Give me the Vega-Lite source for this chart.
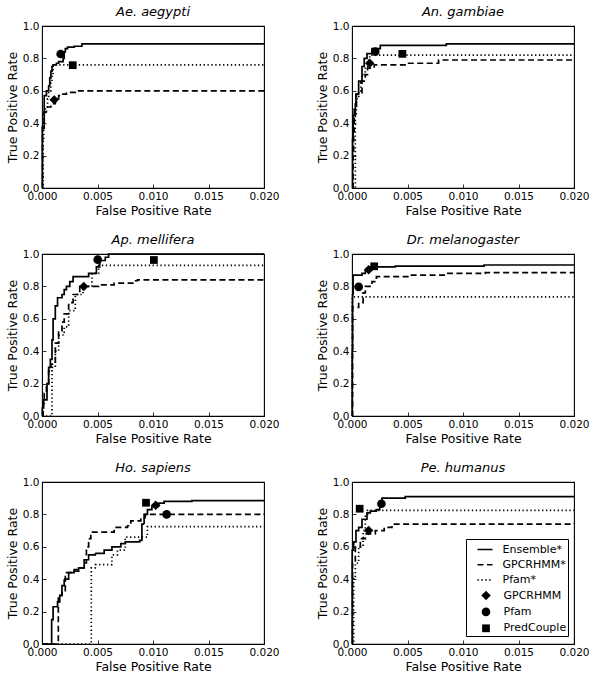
{
  "$schema": "https://vega.github.io/schema/vega-lite/v6.json",
  "description": "ROC curves of GPCR coupling predictors for six species",
  "datasets": {
    "curves": [
      {"species": "Ae. aegypti", "method": "Ensemble*", "fpr": 0, "tpr": 0},
      {"species": "Ae. aegypti", "method": "Ensemble*", "fpr": 0.00003, "tpr": 0.37},
      {"species": "Ae. aegypti", "method": "Ensemble*", "fpr": 0.0002, "tpr": 0.57},
      {"species": "Ae. aegypti", "method": "Ensemble*", "fpr": 0.0004, "tpr": 0.6},
      {"species": "Ae. aegypti", "method": "Ensemble*", "fpr": 0.0006, "tpr": 0.63},
      {"species": "Ae. aegypti", "method": "Ensemble*", "fpr": 0.0007, "tpr": 0.68},
      {"species": "Ae. aegypti", "method": "Ensemble*", "fpr": 0.0008, "tpr": 0.72},
      {"species": "Ae. aegypti", "method": "Ensemble*", "fpr": 0.0009, "tpr": 0.75},
      {"species": "Ae. aegypti", "method": "Ensemble*", "fpr": 0.001, "tpr": 0.76},
      {"species": "Ae. aegypti", "method": "Ensemble*", "fpr": 0.0013, "tpr": 0.77},
      {"species": "Ae. aegypti", "method": "Ensemble*", "fpr": 0.0015, "tpr": 0.78},
      {"species": "Ae. aegypti", "method": "Ensemble*", "fpr": 0.0019, "tpr": 0.8},
      {"species": "Ae. aegypti", "method": "Ensemble*", "fpr": 0.002, "tpr": 0.84},
      {"species": "Ae. aegypti", "method": "Ensemble*", "fpr": 0.0021, "tpr": 0.86},
      {"species": "Ae. aegypti", "method": "Ensemble*", "fpr": 0.0023, "tpr": 0.87},
      {"species": "Ae. aegypti", "method": "Ensemble*", "fpr": 0.0029, "tpr": 0.875},
      {"species": "Ae. aegypti", "method": "Ensemble*", "fpr": 0.0036, "tpr": 0.89},
      {"species": "Ae. aegypti", "method": "Ensemble*", "fpr": 0.02, "tpr": 0.89},
      {"species": "Ae. aegypti", "method": "GPCRHMM*", "fpr": 0, "tpr": 0},
      {"species": "Ae. aegypti", "method": "GPCRHMM*", "fpr": 0.00005, "tpr": 0.4},
      {"species": "Ae. aegypti", "method": "GPCRHMM*", "fpr": 0.0002, "tpr": 0.47},
      {"species": "Ae. aegypti", "method": "GPCRHMM*", "fpr": 0.0004, "tpr": 0.5},
      {"species": "Ae. aegypti", "method": "GPCRHMM*", "fpr": 0.0008, "tpr": 0.52},
      {"species": "Ae. aegypti", "method": "GPCRHMM*", "fpr": 0.0012, "tpr": 0.55},
      {"species": "Ae. aegypti", "method": "GPCRHMM*", "fpr": 0.0015, "tpr": 0.57},
      {"species": "Ae. aegypti", "method": "GPCRHMM*", "fpr": 0.0018, "tpr": 0.58},
      {"species": "Ae. aegypti", "method": "GPCRHMM*", "fpr": 0.0022, "tpr": 0.59},
      {"species": "Ae. aegypti", "method": "GPCRHMM*", "fpr": 0.003, "tpr": 0.6},
      {"species": "Ae. aegypti", "method": "GPCRHMM*", "fpr": 0.02, "tpr": 0.605},
      {"species": "Ae. aegypti", "method": "Pfam*", "fpr": 0, "tpr": 0},
      {"species": "Ae. aegypti", "method": "Pfam*", "fpr": 0.0001, "tpr": 0.3},
      {"species": "Ae. aegypti", "method": "Pfam*", "fpr": 0.00015, "tpr": 0.45},
      {"species": "Ae. aegypti", "method": "Pfam*", "fpr": 0.0003, "tpr": 0.5},
      {"species": "Ae. aegypti", "method": "Pfam*", "fpr": 0.0005, "tpr": 0.55},
      {"species": "Ae. aegypti", "method": "Pfam*", "fpr": 0.0006, "tpr": 0.6},
      {"species": "Ae. aegypti", "method": "Pfam*", "fpr": 0.0008, "tpr": 0.65},
      {"species": "Ae. aegypti", "method": "Pfam*", "fpr": 0.0009, "tpr": 0.7},
      {"species": "Ae. aegypti", "method": "Pfam*", "fpr": 0.001, "tpr": 0.76},
      {"species": "Ae. aegypti", "method": "Pfam*", "fpr": 0.02, "tpr": 0.76},

      {"species": "An. gambiae", "method": "Ensemble*", "fpr": 0, "tpr": 0},
      {"species": "An. gambiae", "method": "Ensemble*", "fpr": 0.00005, "tpr": 0.3},
      {"species": "An. gambiae", "method": "Ensemble*", "fpr": 0.0001, "tpr": 0.45},
      {"species": "An. gambiae", "method": "Ensemble*", "fpr": 0.0003, "tpr": 0.52},
      {"species": "An. gambiae", "method": "Ensemble*", "fpr": 0.00035, "tpr": 0.58},
      {"species": "An. gambiae", "method": "Ensemble*", "fpr": 0.0006, "tpr": 0.66},
      {"species": "An. gambiae", "method": "Ensemble*", "fpr": 0.0009, "tpr": 0.75},
      {"species": "An. gambiae", "method": "Ensemble*", "fpr": 0.0011, "tpr": 0.8},
      {"species": "An. gambiae", "method": "Ensemble*", "fpr": 0.00135, "tpr": 0.83},
      {"species": "An. gambiae", "method": "Ensemble*", "fpr": 0.0018, "tpr": 0.86},
      {"species": "An. gambiae", "method": "Ensemble*", "fpr": 0.00255, "tpr": 0.88},
      {"species": "An. gambiae", "method": "Ensemble*", "fpr": 0.0085, "tpr": 0.89},
      {"species": "An. gambiae", "method": "Ensemble*", "fpr": 0.02, "tpr": 0.89},
      {"species": "An. gambiae", "method": "GPCRHMM*", "fpr": 0, "tpr": 0},
      {"species": "An. gambiae", "method": "GPCRHMM*", "fpr": 0.0001, "tpr": 0.2},
      {"species": "An. gambiae", "method": "GPCRHMM*", "fpr": 0.00015, "tpr": 0.35},
      {"species": "An. gambiae", "method": "GPCRHMM*", "fpr": 0.0002, "tpr": 0.5},
      {"species": "An. gambiae", "method": "GPCRHMM*", "fpr": 0.0004, "tpr": 0.58},
      {"species": "An. gambiae", "method": "GPCRHMM*", "fpr": 0.0009, "tpr": 0.66},
      {"species": "An. gambiae", "method": "GPCRHMM*", "fpr": 0.0012, "tpr": 0.7},
      {"species": "An. gambiae", "method": "GPCRHMM*", "fpr": 0.0014, "tpr": 0.74},
      {"species": "An. gambiae", "method": "GPCRHMM*", "fpr": 0.002, "tpr": 0.76},
      {"species": "An. gambiae", "method": "GPCRHMM*", "fpr": 0.0051, "tpr": 0.77},
      {"species": "An. gambiae", "method": "GPCRHMM*", "fpr": 0.0078, "tpr": 0.79},
      {"species": "An. gambiae", "method": "GPCRHMM*", "fpr": 0.02, "tpr": 0.79},
      {"species": "An. gambiae", "method": "Pfam*", "fpr": 0, "tpr": 0},
      {"species": "An. gambiae", "method": "Pfam*", "fpr": 0.0003, "tpr": 0.45},
      {"species": "An. gambiae", "method": "Pfam*", "fpr": 0.0004, "tpr": 0.55},
      {"species": "An. gambiae", "method": "Pfam*", "fpr": 0.0006, "tpr": 0.6},
      {"species": "An. gambiae", "method": "Pfam*", "fpr": 0.0008, "tpr": 0.65},
      {"species": "An. gambiae", "method": "Pfam*", "fpr": 0.0009, "tpr": 0.7},
      {"species": "An. gambiae", "method": "Pfam*", "fpr": 0.0012, "tpr": 0.75},
      {"species": "An. gambiae", "method": "Pfam*", "fpr": 0.0014, "tpr": 0.79},
      {"species": "An. gambiae", "method": "Pfam*", "fpr": 0.0016, "tpr": 0.82},
      {"species": "An. gambiae", "method": "Pfam*", "fpr": 0.02, "tpr": 0.82},

      {"species": "Ap. mellifera", "method": "Ensemble*", "fpr": 0, "tpr": 0},
      {"species": "Ap. mellifera", "method": "Ensemble*", "fpr": 0.00003, "tpr": 0.05},
      {"species": "Ap. mellifera", "method": "Ensemble*", "fpr": 0.00015, "tpr": 0.1},
      {"species": "Ap. mellifera", "method": "Ensemble*", "fpr": 0.00045, "tpr": 0.2},
      {"species": "Ap. mellifera", "method": "Ensemble*", "fpr": 0.0006, "tpr": 0.3},
      {"species": "Ap. mellifera", "method": "Ensemble*", "fpr": 0.00075, "tpr": 0.35},
      {"species": "Ap. mellifera", "method": "Ensemble*", "fpr": 0.0009, "tpr": 0.47},
      {"species": "Ap. mellifera", "method": "Ensemble*", "fpr": 0.001, "tpr": 0.6},
      {"species": "Ap. mellifera", "method": "Ensemble*", "fpr": 0.0012, "tpr": 0.68},
      {"species": "Ap. mellifera", "method": "Ensemble*", "fpr": 0.0014, "tpr": 0.73},
      {"species": "Ap. mellifera", "method": "Ensemble*", "fpr": 0.0018, "tpr": 0.75},
      {"species": "Ap. mellifera", "method": "Ensemble*", "fpr": 0.002, "tpr": 0.78},
      {"species": "Ap. mellifera", "method": "Ensemble*", "fpr": 0.0022, "tpr": 0.8},
      {"species": "Ap. mellifera", "method": "Ensemble*", "fpr": 0.0025, "tpr": 0.83},
      {"species": "Ap. mellifera", "method": "Ensemble*", "fpr": 0.0028, "tpr": 0.86},
      {"species": "Ap. mellifera", "method": "Ensemble*", "fpr": 0.0042, "tpr": 0.88},
      {"species": "Ap. mellifera", "method": "Ensemble*", "fpr": 0.0049, "tpr": 0.92},
      {"species": "Ap. mellifera", "method": "Ensemble*", "fpr": 0.0052, "tpr": 0.96},
      {"species": "Ap. mellifera", "method": "Ensemble*", "fpr": 0.0057, "tpr": 0.98},
      {"species": "Ap. mellifera", "method": "Ensemble*", "fpr": 0.006, "tpr": 1.0},
      {"species": "Ap. mellifera", "method": "Ensemble*", "fpr": 0.02, "tpr": 1.0},
      {"species": "Ap. mellifera", "method": "GPCRHMM*", "fpr": 0, "tpr": 0},
      {"species": "Ap. mellifera", "method": "GPCRHMM*", "fpr": 0.0001, "tpr": 0.08},
      {"species": "Ap. mellifera", "method": "GPCRHMM*", "fpr": 0.0002, "tpr": 0.14},
      {"species": "Ap. mellifera", "method": "GPCRHMM*", "fpr": 0.0004, "tpr": 0.18},
      {"species": "Ap. mellifera", "method": "GPCRHMM*", "fpr": 0.0006, "tpr": 0.28},
      {"species": "Ap. mellifera", "method": "GPCRHMM*", "fpr": 0.0008, "tpr": 0.32},
      {"species": "Ap. mellifera", "method": "GPCRHMM*", "fpr": 0.0012, "tpr": 0.45},
      {"species": "Ap. mellifera", "method": "GPCRHMM*", "fpr": 0.0015, "tpr": 0.52},
      {"species": "Ap. mellifera", "method": "GPCRHMM*", "fpr": 0.0018, "tpr": 0.58},
      {"species": "Ap. mellifera", "method": "GPCRHMM*", "fpr": 0.002, "tpr": 0.63},
      {"species": "Ap. mellifera", "method": "GPCRHMM*", "fpr": 0.0024, "tpr": 0.7},
      {"species": "Ap. mellifera", "method": "GPCRHMM*", "fpr": 0.0028, "tpr": 0.75},
      {"species": "Ap. mellifera", "method": "GPCRHMM*", "fpr": 0.0034, "tpr": 0.8},
      {"species": "Ap. mellifera", "method": "GPCRHMM*", "fpr": 0.0051, "tpr": 0.81},
      {"species": "Ap. mellifera", "method": "GPCRHMM*", "fpr": 0.0065, "tpr": 0.82},
      {"species": "Ap. mellifera", "method": "GPCRHMM*", "fpr": 0.0083, "tpr": 0.835},
      {"species": "Ap. mellifera", "method": "GPCRHMM*", "fpr": 0.0086, "tpr": 0.84},
      {"species": "Ap. mellifera", "method": "GPCRHMM*", "fpr": 0.02, "tpr": 0.84},
      {"species": "Ap. mellifera", "method": "Pfam*", "fpr": 0, "tpr": 0},
      {"species": "Ap. mellifera", "method": "Pfam*", "fpr": 0.0009, "tpr": 0.3},
      {"species": "Ap. mellifera", "method": "Pfam*", "fpr": 0.0012, "tpr": 0.4},
      {"species": "Ap. mellifera", "method": "Pfam*", "fpr": 0.0015, "tpr": 0.5},
      {"species": "Ap. mellifera", "method": "Pfam*", "fpr": 0.002, "tpr": 0.55},
      {"species": "Ap. mellifera", "method": "Pfam*", "fpr": 0.0024, "tpr": 0.65},
      {"species": "Ap. mellifera", "method": "Pfam*", "fpr": 0.003, "tpr": 0.75},
      {"species": "Ap. mellifera", "method": "Pfam*", "fpr": 0.0037, "tpr": 0.8},
      {"species": "Ap. mellifera", "method": "Pfam*", "fpr": 0.0045, "tpr": 0.88},
      {"species": "Ap. mellifera", "method": "Pfam*", "fpr": 0.0051, "tpr": 0.93},
      {"species": "Ap. mellifera", "method": "Pfam*", "fpr": 0.02, "tpr": 0.93},

      {"species": "Dr. melanogaster", "method": "Ensemble*", "fpr": 0, "tpr": 0},
      {"species": "Dr. melanogaster", "method": "Ensemble*", "fpr": 0.00002, "tpr": 0.4},
      {"species": "Dr. melanogaster", "method": "Ensemble*", "fpr": 0.00005, "tpr": 0.75},
      {"species": "Dr. melanogaster", "method": "Ensemble*", "fpr": 0.0001, "tpr": 0.87},
      {"species": "Dr. melanogaster", "method": "Ensemble*", "fpr": 0.0009, "tpr": 0.88},
      {"species": "Dr. melanogaster", "method": "Ensemble*", "fpr": 0.0012, "tpr": 0.9},
      {"species": "Dr. melanogaster", "method": "Ensemble*", "fpr": 0.0016, "tpr": 0.92},
      {"species": "Dr. melanogaster", "method": "Ensemble*", "fpr": 0.0039, "tpr": 0.925},
      {"species": "Dr. melanogaster", "method": "Ensemble*", "fpr": 0.0119, "tpr": 0.932},
      {"species": "Dr. melanogaster", "method": "Ensemble*", "fpr": 0.02, "tpr": 0.932},
      {"species": "Dr. melanogaster", "method": "GPCRHMM*", "fpr": 0, "tpr": 0},
      {"species": "Dr. melanogaster", "method": "GPCRHMM*", "fpr": 0.00005, "tpr": 0.67},
      {"species": "Dr. melanogaster", "method": "GPCRHMM*", "fpr": 0.0006, "tpr": 0.7},
      {"species": "Dr. melanogaster", "method": "GPCRHMM*", "fpr": 0.001, "tpr": 0.76},
      {"species": "Dr. melanogaster", "method": "GPCRHMM*", "fpr": 0.0012, "tpr": 0.8},
      {"species": "Dr. melanogaster", "method": "GPCRHMM*", "fpr": 0.0018, "tpr": 0.83},
      {"species": "Dr. melanogaster", "method": "GPCRHMM*", "fpr": 0.0022, "tpr": 0.86},
      {"species": "Dr. melanogaster", "method": "GPCRHMM*", "fpr": 0.0052, "tpr": 0.87},
      {"species": "Dr. melanogaster", "method": "GPCRHMM*", "fpr": 0.0084, "tpr": 0.88},
      {"species": "Dr. melanogaster", "method": "GPCRHMM*", "fpr": 0.012, "tpr": 0.885},
      {"species": "Dr. melanogaster", "method": "GPCRHMM*", "fpr": 0.02, "tpr": 0.885},
      {"species": "Dr. melanogaster", "method": "Pfam*", "fpr": 0, "tpr": 0},
      {"species": "Dr. melanogaster", "method": "Pfam*", "fpr": 0.00003, "tpr": 0.735},
      {"species": "Dr. melanogaster", "method": "Pfam*", "fpr": 0.02, "tpr": 0.735},

      {"species": "Ho. sapiens", "method": "Ensemble*", "fpr": 0, "tpr": 0},
      {"species": "Ho. sapiens", "method": "Ensemble*", "fpr": 0.00087, "tpr": 0.15},
      {"species": "Ho. sapiens", "method": "Ensemble*", "fpr": 0.001, "tpr": 0.23},
      {"species": "Ho. sapiens", "method": "Ensemble*", "fpr": 0.0014, "tpr": 0.26},
      {"species": "Ho. sapiens", "method": "Ensemble*", "fpr": 0.0016, "tpr": 0.3},
      {"species": "Ho. sapiens", "method": "Ensemble*", "fpr": 0.0018, "tpr": 0.36},
      {"species": "Ho. sapiens", "method": "Ensemble*", "fpr": 0.002, "tpr": 0.4},
      {"species": "Ho. sapiens", "method": "Ensemble*", "fpr": 0.0024, "tpr": 0.44},
      {"species": "Ho. sapiens", "method": "Ensemble*", "fpr": 0.0029, "tpr": 0.46},
      {"species": "Ho. sapiens", "method": "Ensemble*", "fpr": 0.0033, "tpr": 0.47},
      {"species": "Ho. sapiens", "method": "Ensemble*", "fpr": 0.0038, "tpr": 0.52},
      {"species": "Ho. sapiens", "method": "Ensemble*", "fpr": 0.0042, "tpr": 0.55},
      {"species": "Ho. sapiens", "method": "Ensemble*", "fpr": 0.0048, "tpr": 0.56},
      {"species": "Ho. sapiens", "method": "Ensemble*", "fpr": 0.0056, "tpr": 0.58},
      {"species": "Ho. sapiens", "method": "Ensemble*", "fpr": 0.0063, "tpr": 0.6},
      {"species": "Ho. sapiens", "method": "Ensemble*", "fpr": 0.0071, "tpr": 0.62},
      {"species": "Ho. sapiens", "method": "Ensemble*", "fpr": 0.0075, "tpr": 0.63},
      {"species": "Ho. sapiens", "method": "Ensemble*", "fpr": 0.0088, "tpr": 0.64},
      {"species": "Ho. sapiens", "method": "Ensemble*", "fpr": 0.009, "tpr": 0.74},
      {"species": "Ho. sapiens", "method": "Ensemble*", "fpr": 0.0092, "tpr": 0.8},
      {"species": "Ho. sapiens", "method": "Ensemble*", "fpr": 0.0095, "tpr": 0.83},
      {"species": "Ho. sapiens", "method": "Ensemble*", "fpr": 0.0099, "tpr": 0.85},
      {"species": "Ho. sapiens", "method": "Ensemble*", "fpr": 0.0105, "tpr": 0.87},
      {"species": "Ho. sapiens", "method": "Ensemble*", "fpr": 0.011, "tpr": 0.88},
      {"species": "Ho. sapiens", "method": "Ensemble*", "fpr": 0.0135, "tpr": 0.885},
      {"species": "Ho. sapiens", "method": "Ensemble*", "fpr": 0.02, "tpr": 0.885},
      {"species": "Ho. sapiens", "method": "GPCRHMM*", "fpr": 0, "tpr": 0},
      {"species": "Ho. sapiens", "method": "GPCRHMM*", "fpr": 0.00147, "tpr": 0.3},
      {"species": "Ho. sapiens", "method": "GPCRHMM*", "fpr": 0.0018, "tpr": 0.33},
      {"species": "Ho. sapiens", "method": "GPCRHMM*", "fpr": 0.0021, "tpr": 0.44},
      {"species": "Ho. sapiens", "method": "GPCRHMM*", "fpr": 0.0029, "tpr": 0.45},
      {"species": "Ho. sapiens", "method": "GPCRHMM*", "fpr": 0.0035, "tpr": 0.47},
      {"species": "Ho. sapiens", "method": "GPCRHMM*", "fpr": 0.0038, "tpr": 0.5},
      {"species": "Ho. sapiens", "method": "GPCRHMM*", "fpr": 0.004, "tpr": 0.6},
      {"species": "Ho. sapiens", "method": "GPCRHMM*", "fpr": 0.0042, "tpr": 0.65},
      {"species": "Ho. sapiens", "method": "GPCRHMM*", "fpr": 0.0044, "tpr": 0.69},
      {"species": "Ho. sapiens", "method": "GPCRHMM*", "fpr": 0.0065, "tpr": 0.72},
      {"species": "Ho. sapiens", "method": "GPCRHMM*", "fpr": 0.0077, "tpr": 0.73},
      {"species": "Ho. sapiens", "method": "GPCRHMM*", "fpr": 0.008, "tpr": 0.76},
      {"species": "Ho. sapiens", "method": "GPCRHMM*", "fpr": 0.0089, "tpr": 0.78},
      {"species": "Ho. sapiens", "method": "GPCRHMM*", "fpr": 0.0093, "tpr": 0.8},
      {"species": "Ho. sapiens", "method": "GPCRHMM*", "fpr": 0.02, "tpr": 0.805},
      {"species": "Ho. sapiens", "method": "Pfam*", "fpr": 0, "tpr": 0},
      {"species": "Ho. sapiens", "method": "Pfam*", "fpr": 0.00444, "tpr": 0.47},
      {"species": "Ho. sapiens", "method": "Pfam*", "fpr": 0.0048, "tpr": 0.49},
      {"species": "Ho. sapiens", "method": "Pfam*", "fpr": 0.0063, "tpr": 0.55},
      {"species": "Ho. sapiens", "method": "Pfam*", "fpr": 0.0068, "tpr": 0.58},
      {"species": "Ho. sapiens", "method": "Pfam*", "fpr": 0.0075, "tpr": 0.66},
      {"species": "Ho. sapiens", "method": "Pfam*", "fpr": 0.0095, "tpr": 0.725},
      {"species": "Ho. sapiens", "method": "Pfam*", "fpr": 0.02, "tpr": 0.725},

      {"species": "Pe. humanus", "method": "Ensemble*", "fpr": 0, "tpr": 0},
      {"species": "Pe. humanus", "method": "Ensemble*", "fpr": 0.00002, "tpr": 0.58},
      {"species": "Pe. humanus", "method": "Ensemble*", "fpr": 0.00015, "tpr": 0.63},
      {"species": "Pe. humanus", "method": "Ensemble*", "fpr": 0.00036, "tpr": 0.7},
      {"species": "Pe. humanus", "method": "Ensemble*", "fpr": 0.0006, "tpr": 0.72},
      {"species": "Pe. humanus", "method": "Ensemble*", "fpr": 0.0009, "tpr": 0.77},
      {"species": "Pe. humanus", "method": "Ensemble*", "fpr": 0.00135, "tpr": 0.81},
      {"species": "Pe. humanus", "method": "Ensemble*", "fpr": 0.00165, "tpr": 0.82},
      {"species": "Pe. humanus", "method": "Ensemble*", "fpr": 0.0022, "tpr": 0.83},
      {"species": "Pe. humanus", "method": "Ensemble*", "fpr": 0.0025, "tpr": 0.85},
      {"species": "Pe. humanus", "method": "Ensemble*", "fpr": 0.0027, "tpr": 0.9},
      {"species": "Pe. humanus", "method": "Ensemble*", "fpr": 0.0048, "tpr": 0.91},
      {"species": "Pe. humanus", "method": "Ensemble*", "fpr": 0.02, "tpr": 0.91},
      {"species": "Pe. humanus", "method": "GPCRHMM*", "fpr": 0, "tpr": 0},
      {"species": "Pe. humanus", "method": "GPCRHMM*", "fpr": 0.00005, "tpr": 0.5},
      {"species": "Pe. humanus", "method": "GPCRHMM*", "fpr": 0.0003, "tpr": 0.6},
      {"species": "Pe. humanus", "method": "GPCRHMM*", "fpr": 0.00075, "tpr": 0.65},
      {"species": "Pe. humanus", "method": "GPCRHMM*", "fpr": 0.0012, "tpr": 0.68},
      {"species": "Pe. humanus", "method": "GPCRHMM*", "fpr": 0.0021, "tpr": 0.7},
      {"species": "Pe. humanus", "method": "GPCRHMM*", "fpr": 0.0029, "tpr": 0.72},
      {"species": "Pe. humanus", "method": "GPCRHMM*", "fpr": 0.0036, "tpr": 0.74},
      {"species": "Pe. humanus", "method": "GPCRHMM*", "fpr": 0.02, "tpr": 0.745},
      {"species": "Pe. humanus", "method": "Pfam*", "fpr": 0, "tpr": 0},
      {"species": "Pe. humanus", "method": "Pfam*", "fpr": 0.00015, "tpr": 0.4},
      {"species": "Pe. humanus", "method": "Pfam*", "fpr": 0.0003, "tpr": 0.5},
      {"species": "Pe. humanus", "method": "Pfam*", "fpr": 0.0006, "tpr": 0.6},
      {"species": "Pe. humanus", "method": "Pfam*", "fpr": 0.001, "tpr": 0.7},
      {"species": "Pe. humanus", "method": "Pfam*", "fpr": 0.0012, "tpr": 0.8},
      {"species": "Pe. humanus", "method": "Pfam*", "fpr": 0.0014, "tpr": 0.825},
      {"species": "Pe. humanus", "method": "Pfam*", "fpr": 0.02, "tpr": 0.825}
    ],
    "points": [
      {"species": "Ae. aegypti", "method": "GPCRHMM", "fpr": 0.0011, "tpr": 0.544},
      {"species": "Ae. aegypti", "method": "Pfam", "fpr": 0.00168, "tpr": 0.827},
      {"species": "Ae. aegypti", "method": "PredCouple", "fpr": 0.00277, "tpr": 0.758},
      {"species": "An. gambiae", "method": "GPCRHMM", "fpr": 0.0016, "tpr": 0.77},
      {"species": "An. gambiae", "method": "Pfam", "fpr": 0.0021, "tpr": 0.842},
      {"species": "An. gambiae", "method": "PredCouple", "fpr": 0.00454, "tpr": 0.828},
      {"species": "Ap. mellifera", "method": "GPCRHMM", "fpr": 0.00376, "tpr": 0.8},
      {"species": "Ap. mellifera", "method": "Pfam", "fpr": 0.00502, "tpr": 0.965},
      {"species": "Ap. mellifera", "method": "PredCouple", "fpr": 0.01008, "tpr": 0.963},
      {"species": "Dr. melanogaster", "method": "GPCRHMM", "fpr": 0.0015, "tpr": 0.903},
      {"species": "Dr. melanogaster", "method": "Pfam", "fpr": 0.0006, "tpr": 0.797},
      {"species": "Dr. melanogaster", "method": "PredCouple", "fpr": 0.002, "tpr": 0.924},
      {"species": "Ho. sapiens", "method": "GPCRHMM", "fpr": 0.01024, "tpr": 0.856},
      {"species": "Ho. sapiens", "method": "Pfam", "fpr": 0.01123, "tpr": 0.8},
      {"species": "Ho. sapiens", "method": "PredCouple", "fpr": 0.00937, "tpr": 0.872},
      {"species": "Pe. humanus", "method": "GPCRHMM", "fpr": 0.0015, "tpr": 0.7},
      {"species": "Pe. humanus", "method": "Pfam", "fpr": 0.00265, "tpr": 0.866},
      {"species": "Pe. humanus", "method": "PredCouple", "fpr": 0.00069, "tpr": 0.835}
    ]
  },
  "columns": 2,
  "spacing": {"column": 88, "row": 66},
  "bounds": "flush",
  "resolve": {"scale": {"shape": "shared", "size": "shared", "strokeDash": "shared"}, "legend": {"strokeDash": "shared", "shape": "shared", "size": "shared"}},
  "concat": [
    {
      "title": "Ae. aegypti",
      "width": 222, "height": 162,
      "layer": [
        {"data": {"name": "curves"}, "transform": [{"filter": "datum.species === 'Ae. aegypti'"}],
         "mark": {"type": "line", "interpolate": "step-after", "color": "black", "strokeWidth": 1.7},
         "encoding": {
           "x": {"field": "fpr", "type": "quantitative", "scale": {"domain": [0, 0.02], "nice": false, "zero": false}, "axis": {"values": [0, 0.005, 0.01, 0.015, 0.02], "tickCount": 10, "format": ".3f", "labelOverlap": false, "title": "False Positive Rate"}},
           "y": {"field": "tpr", "type": "quantitative", "scale": {"domain": [0, 1], "nice": false}, "axis": {"values": [0, 0.2, 0.4, 0.6, 0.8, 1], "tickCount": 10, "format": ".1f", "labelOverlap": false, "title": "True Positive Rate"}},
           "strokeDash": {"field": "method", "type": "nominal", "scale": {"domain": ["Ensemble*", "GPCRHMM*", "Pfam*"], "range": [[1, 0], [6, 3.5], [1.3, 2.6]]}}
         }},
        {"data": {"name": "points"}, "transform": [{"filter": "datum.species === 'Ae. aegypti'"}],
         "mark": {"type": "point", "filled": true, "color": "black", "opacity": 1},
         "encoding": {
           "x": {"field": "fpr", "type": "quantitative"},
           "y": {"field": "tpr", "type": "quantitative"},
           "shape": {"field": "method", "type": "nominal", "scale": {"domain": ["GPCRHMM", "Pfam", "PredCouple"], "range": ["diamond", "circle", "square"]}},
           "size": {"field": "method", "type": "nominal", "scale": {"domain": ["GPCRHMM", "Pfam", "PredCouple"], "range": [90, 60, 52]}}
         }}
      ]
    },
    {
      "title": "An. gambiae",
      "width": 222, "height": 162,
      "layer": [
        {"data": {"name": "curves"}, "transform": [{"filter": "datum.species === 'An. gambiae'"}],
         "mark": {"type": "line", "interpolate": "step-after", "color": "black", "strokeWidth": 1.7},
         "encoding": {
           "x": {"field": "fpr", "type": "quantitative", "scale": {"domain": [0, 0.02], "nice": false, "zero": false}, "axis": {"values": [0, 0.005, 0.01, 0.015, 0.02], "tickCount": 10, "format": ".3f", "labelOverlap": false, "title": "False Positive Rate"}},
           "y": {"field": "tpr", "type": "quantitative", "scale": {"domain": [0, 1], "nice": false}, "axis": {"values": [0, 0.2, 0.4, 0.6, 0.8, 1], "tickCount": 10, "format": ".1f", "labelOverlap": false, "title": "True Positive Rate"}},
           "strokeDash": {"field": "method", "type": "nominal"}
         }},
        {"data": {"name": "points"}, "transform": [{"filter": "datum.species === 'An. gambiae'"}],
         "mark": {"type": "point", "filled": true, "color": "black", "opacity": 1},
         "encoding": {
           "x": {"field": "fpr", "type": "quantitative"},
           "y": {"field": "tpr", "type": "quantitative"},
           "shape": {"field": "method", "type": "nominal"},
           "size": {"field": "method", "type": "nominal"}
         }}
      ]
    },
    {
      "title": "Ap. mellifera",
      "width": 222, "height": 162,
      "layer": [
        {"data": {"name": "curves"}, "transform": [{"filter": "datum.species === 'Ap. mellifera'"}],
         "mark": {"type": "line", "interpolate": "step-after", "color": "black", "strokeWidth": 1.7},
         "encoding": {
           "x": {"field": "fpr", "type": "quantitative", "scale": {"domain": [0, 0.02], "nice": false, "zero": false}, "axis": {"values": [0, 0.005, 0.01, 0.015, 0.02], "tickCount": 10, "format": ".3f", "labelOverlap": false, "title": "False Positive Rate"}},
           "y": {"field": "tpr", "type": "quantitative", "scale": {"domain": [0, 1], "nice": false}, "axis": {"values": [0, 0.2, 0.4, 0.6, 0.8, 1], "tickCount": 10, "format": ".1f", "labelOverlap": false, "title": "True Positive Rate"}},
           "strokeDash": {"field": "method", "type": "nominal"}
         }},
        {"data": {"name": "points"}, "transform": [{"filter": "datum.species === 'Ap. mellifera'"}],
         "mark": {"type": "point", "filled": true, "color": "black", "opacity": 1},
         "encoding": {
           "x": {"field": "fpr", "type": "quantitative"},
           "y": {"field": "tpr", "type": "quantitative"},
           "shape": {"field": "method", "type": "nominal"},
           "size": {"field": "method", "type": "nominal"}
         }}
      ]
    },
    {
      "title": "Dr. melanogaster",
      "width": 222, "height": 162,
      "layer": [
        {"data": {"name": "curves"}, "transform": [{"filter": "datum.species === 'Dr. melanogaster'"}],
         "mark": {"type": "line", "interpolate": "step-after", "color": "black", "strokeWidth": 1.7},
         "encoding": {
           "x": {"field": "fpr", "type": "quantitative", "scale": {"domain": [0, 0.02], "nice": false, "zero": false}, "axis": {"values": [0, 0.005, 0.01, 0.015, 0.02], "tickCount": 10, "format": ".3f", "labelOverlap": false, "title": "False Positive Rate"}},
           "y": {"field": "tpr", "type": "quantitative", "scale": {"domain": [0, 1], "nice": false}, "axis": {"values": [0, 0.2, 0.4, 0.6, 0.8, 1], "tickCount": 10, "format": ".1f", "labelOverlap": false, "title": "True Positive Rate"}},
           "strokeDash": {"field": "method", "type": "nominal"}
         }},
        {"data": {"name": "points"}, "transform": [{"filter": "datum.species === 'Dr. melanogaster'"}],
         "mark": {"type": "point", "filled": true, "color": "black", "opacity": 1},
         "encoding": {
           "x": {"field": "fpr", "type": "quantitative"},
           "y": {"field": "tpr", "type": "quantitative"},
           "shape": {"field": "method", "type": "nominal"},
           "size": {"field": "method", "type": "nominal"}
         }}
      ]
    },
    {
      "title": "Ho. sapiens",
      "width": 222, "height": 162,
      "layer": [
        {"data": {"name": "curves"}, "transform": [{"filter": "datum.species === 'Ho. sapiens'"}],
         "mark": {"type": "line", "interpolate": "step-after", "color": "black", "strokeWidth": 1.7},
         "encoding": {
           "x": {"field": "fpr", "type": "quantitative", "scale": {"domain": [0, 0.02], "nice": false, "zero": false}, "axis": {"values": [0, 0.005, 0.01, 0.015, 0.02], "tickCount": 10, "format": ".3f", "labelOverlap": false, "title": "False Positive Rate"}},
           "y": {"field": "tpr", "type": "quantitative", "scale": {"domain": [0, 1], "nice": false}, "axis": {"values": [0, 0.2, 0.4, 0.6, 0.8, 1], "tickCount": 10, "format": ".1f", "labelOverlap": false, "title": "True Positive Rate"}},
           "strokeDash": {"field": "method", "type": "nominal"}
         }},
        {"data": {"name": "points"}, "transform": [{"filter": "datum.species === 'Ho. sapiens'"}],
         "mark": {"type": "point", "filled": true, "color": "black", "opacity": 1},
         "encoding": {
           "x": {"field": "fpr", "type": "quantitative"},
           "y": {"field": "tpr", "type": "quantitative"},
           "shape": {"field": "method", "type": "nominal"},
           "size": {"field": "method", "type": "nominal"}
         }}
      ]
    },
    {
      "title": "Pe. humanus",
      "width": 222, "height": 162,
      "layer": [
        {"data": {"name": "curves"}, "transform": [{"filter": "datum.species === 'Pe. humanus'"}],
         "mark": {"type": "line", "interpolate": "step-after", "color": "black", "strokeWidth": 1.7},
         "encoding": {
           "x": {"field": "fpr", "type": "quantitative", "scale": {"domain": [0, 0.02], "nice": false, "zero": false}, "axis": {"values": [0, 0.005, 0.01, 0.015, 0.02], "tickCount": 10, "format": ".3f", "labelOverlap": false, "title": "False Positive Rate"}},
           "y": {"field": "tpr", "type": "quantitative", "scale": {"domain": [0, 1], "nice": false}, "axis": {"values": [0, 0.2, 0.4, 0.6, 0.8, 1], "tickCount": 10, "format": ".1f", "labelOverlap": false, "title": "True Positive Rate"}},
           "strokeDash": {"field": "method", "type": "nominal", "legend": {
             "orient": "none", "legendX": 424, "legendY": 513,
             "title": " ", "titleOrient": "bottom", "titlePadding": 38, "titleFontSize": 11,
             "strokeColor": "black", "fillColor": "transparent", "padding": 2,
             "symbolType": "stroke", "symbolSize": 225, "symbolStrokeWidth": 1.6,
             "symbolOffset": 8.5, "labelOffset": 9, "rowPadding": 1.2
           }}
         }},
        {"data": {"name": "points"}, "transform": [{"filter": "datum.species === 'Pe. humanus'"}],
         "mark": {"type": "point", "filled": true, "color": "black", "opacity": 1},
         "encoding": {
           "x": {"field": "fpr", "type": "quantitative"},
           "y": {"field": "tpr", "type": "quantitative"},
           "shape": {"field": "method", "type": "nominal", "legend": {
             "orient": "none", "legendX": 426, "legendY": 564, "title": null,
             "strokeColor": "transparent", "fillColor": "transparent", "padding": 0,
             "symbolOffset": 12.5, "labelOffset": 12, "rowPadding": 0.4
           }},
           "size": {"field": "method", "type": "nominal", "legend": {
             "orient": "none", "legendX": 426, "legendY": 564, "title": null,
             "strokeColor": "transparent", "fillColor": "transparent", "padding": 0,
             "symbolOffset": 12.5, "labelOffset": 12, "rowPadding": 0.4
           }}
         }}
      ]
    }
  ],
  "config": {
    "font": "DejaVu Sans",
    "view": {"stroke": "black", "strokeWidth": 1.1},
    "title": {"fontSize": 13, "fontStyle": "italic", "fontWeight": "normal", "font": "DejaVu Sans", "offset": 2, "color": "black"},
    "axis": {
      "grid": false, "domain": false,
      "ticks": true, "tickSize": -4, "tickColor": "black", "tickWidth": 0.8,
      "labelFont": "DejaVu Sans", "labelFontSize": 10.5, "labelColor": "black", "labelPadding": 7,
      "labelFlush": false, "labelOverlap": false, "labelBound": false,
      "titleFont": "DejaVu Sans", "titleFontSize": 12.5, "titleFontWeight": "normal", "titleColor": "black", "titlePadding": 3
    },
    "legend": {
      "cornerRadius": 0,
      "labelFont": "DejaVu Sans", "labelFontSize": 11, "labelColor": "black",
      "gridAlign": "all"
    }
  }
}
